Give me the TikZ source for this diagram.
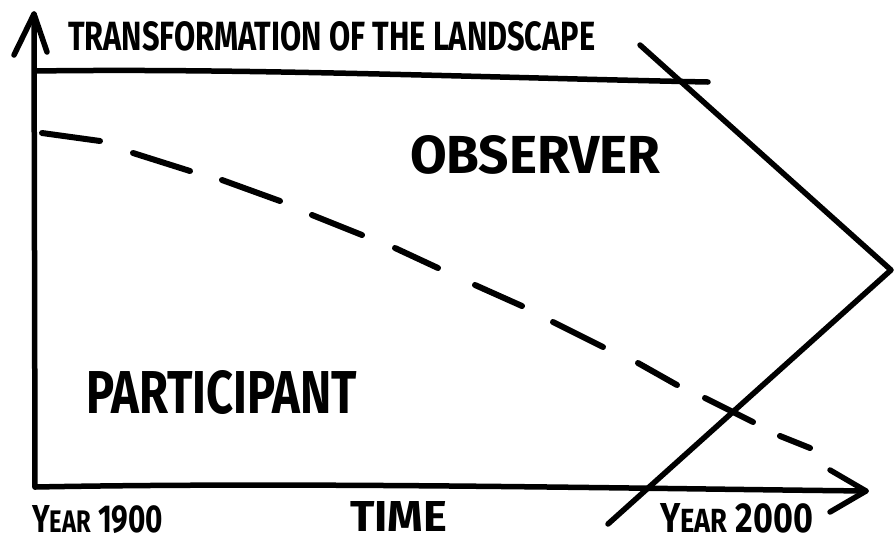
\documentclass[tikz,border=0pt]{standalone}
\usepackage{fontspec}
\usepackage{graphicx}
\setmainfont{Fira Sans}
\begin{document}
\begin{tikzpicture}[x=1pt,y=-1pt,
  ink/.style={line width=5.5pt,line cap=round,line join=round,black},
  dashseg/.style={line width=6pt,line cap=round,black},
  lbl/.style={inner sep=0pt,anchor=north west}]
\useasboundingbox (0,0) rectangle (895,542);
% axes
\coordinate (origin) at (35,487);
\coordinate (ytip) at (34,14);
\coordinate (xtip) at (866,491);
\draw[ink] (origin) -- (ytip);
\draw[ink] (14,55) -- (ytip) -- (47,52);
\draw[ink] (origin) .. controls (300,482) and (600,488) .. (xtip);
\draw[ink] (830,470) -- (xtip) -- (830,512);
% top boundary
\coordinate (topL) at (35,71);
\coordinate (topR) at (708,82);
\draw[ink] (topL) .. controls (250,68) and (500,78) .. (topR);
% chevron
\coordinate (cA) at (640,45);
\coordinate (cB) at (891,270);
\coordinate (cC) at (608,524);
\draw[ink] (cA) -- (cB) -- (cC);
% dashed curve
\foreach \a/\b/\c/\d in {42/133/100/141, 133/153/190/171, 222/180/280/201,
  312/215/362/235, 395/248/438/268, 475/285/522/306, 553/322/603/347,
  638/363/677/385, 705/398/753/422, 780/436/810/448}
  \draw[dashseg] (\a,\b) -- (\c,\d);
% labels
\node[lbl] (title) at (68,21) {\resizebox{527pt}{29pt}{\bfseries TRANSFORMATION OF THE LANDSCAPE}};
\node[lbl] (observer) at (410,135) {\resizebox{250pt}{38pt}{\bfseries OBSERVER}};
\node[lbl] (participant) at (86,370) {\resizebox{271pt}{43pt}{\bfseries PARTICIPANT}};
\node[lbl] (y1900) at (32,505) {\resizebox{131pt}{27pt}{\bfseries Y{\footnotesize EAR} 1900}};
\node[lbl] (time) at (350,501) {\resizebox{97pt}{30pt}{\bfseries TIME}};
\node[lbl] (y2000) at (660,503) {\resizebox{153pt}{29pt}{\bfseries Y{\footnotesize EAR} 2000}};
\end{tikzpicture}
\end{document}
